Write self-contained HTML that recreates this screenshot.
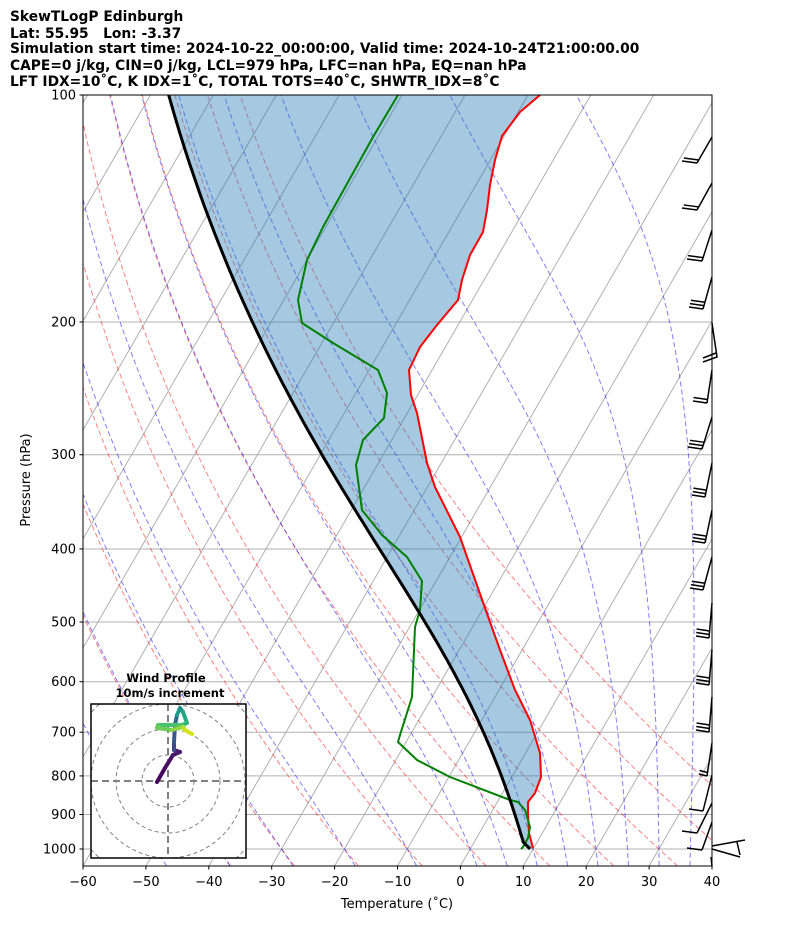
<!DOCTYPE html>
<html><head><meta charset="utf-8"><style>
body{margin:0;background:#fff;}
svg{display:block;font-family:"DejaVu Sans","Liberation Sans",sans-serif;}
</style></head><body>
<svg id="s" width="794" height="937" xmlns="http://www.w3.org/2000/svg">
<defs><clipPath id="cp"><rect x="83" y="95" width="629" height="771"/></clipPath>
<clipPath id="ci"><rect x="91" y="704" width="155" height="154"/></clipPath></defs>
<g font-weight="bold" font-size="13.8" fill="#000">
<text x="10" y="21">SkewTLogP Edinburgh</text>
<text x="10" y="38">Lat: 55.95 Lon: -3.37</text>
<text x="10" y="53">Simulation start time: 2024-10-22_00:00:00, Valid time: 2024-10-24T21:00:00.00</text>
<text x="10" y="70">CAPE=0 j/kg, CIN=0 j/kg, LCL=979 hPa, LFC=nan hPa, EQ=nan hPa</text>
<text x="10" y="86">LFT IDX</text>
</g>
<g id="bg" clip-path="url(#cp)"></g>
<g id="fg"></g>
</svg>
<script>
var NS="http://www.w3.org/2000/svg";
function el(p,t,a){var e=document.createElementNS(NS,t);for(var k in a)e.setAttribute(k,a[k]);p.appendChild(e);return e;}
var s=document.getElementById('s'),bg=document.getElementById('bg'),fg=document.getElementById('fg');
var tt=s.querySelectorAll('text');
tt[1].textContent="Lat: 55.95\u00a0\u00a0\u00a0Lon: -3.37";
tt[4].textContent="LFT IDX=10\u02DAC, K IDX=1\u02DAC, TOTAL TOTS=40\u02DAC, SHWTR_IDX=8\u02DAC";
function Y(p){return 95+754*Math.log10(p/100);}
function X(T,p){return 83+(T+60)*6.29+(866-Y(p))*0.577;}
var PB=1053;
function pl(g,pts,a){a.points=pts.map(function(q){return q[0].toFixed(1)+","+q[1].toFixed(1)}).join(" ");a.fill=a.fill||"none";return el(g,"polyline",a);}
for(var p=100;p<=1000;p+=100){el(bg,"line",{x1:83,x2:712,y1:Y(p),y2:Y(p),stroke:"#b0b0b0","stroke-width":1});}
for(var T=-150;T<=60;T+=10){var x0=83+(T+60)*6.29;el(bg,"line",{x1:x0,y1:866,x2:x0+771*0.577,y2:95,stroke:"#b0b0b0","stroke-width":1});}
for(var t=-40;t<=50;t+=10){var th=t+273.15,pts=[];for(var i=0;i<=60;i++){var pp=PB-(PB-100)*i/60;pts.push([X(th*Math.pow(pp/1000,0.2857)-273.15,pp),Y(pp)]);}
pl(bg,pts,{stroke:"#ff0000","stroke-opacity":0.5,"stroke-width":1,"stroke-dasharray":"5,3"});}
function dTdp(T,p){var Tc=T-273.15;var es=6.112*Math.exp(17.67*Tc/(Tc+243.5));var rs=0.622*es/(p-es);
return (287.04*T+2.501e6*rs)/(1005.7+2.501e6*2.501e6*rs*0.622/(287.04*T*T))/p;}
function integ(T,p0,p1,n){var out=[[T,p0]],h=(p1-p0)/n,p=p0;for(var i=0;i<n;i++){var k1=dTdp(T,p),k2=dTdp(T+h*k1/2,p+h/2),k3=dTdp(T+h*k2/2,p+h/2),k4=dTdp(T+h*k3,p+h);T+=h*(k1+2*k2+2*k3+k4)/6;p+=h;out.push([T,p]);}return out;}
var mts=[-50,-40,-30,-20,-10];for(var t=0;t<100;t+=5)mts.push(t);
mts.forEach(function(t){var up=integ(t+273.15,1000,100,120),dn=integ(t+273.15,1000,PB,10);var all=dn.reverse().concat(up.slice(1));
pl(bg,all.map(function(q){return [X(q[0]-273.15,q[1]),Y(q[1])]}),{stroke:"#0000ff","stroke-opacity":0.5,"stroke-width":1,"stroke-dasharray":"5,3"});});
var red=[[540,95],[520,112],[502,136],[495,160],[490,185],[487,210],[483,232],[470,255],[462,280],[458,300],[437,325],[420,347],[409,370],[411,395],[417,413],[427,463],[435,487],[460,537],[485,608],[500,650],[515,690],[530,720],[540,753],[541,777],[535,793],[528,802],[528,813],[529,833],[533,848]];
// parcel
var T0=282.65,lcl=979,blk=[];
for(var i=0;i<=5;i++){var pp=1000-(1000-lcl)*i/5;blk.push([X(T0*Math.pow(pp/1000,0.2857)-273.15,pp),Y(pp)]);}
var Tl=T0*Math.pow(lcl/1000,0.2857);
integ(Tl,lcl,100,150).slice(1).forEach(function(q){blk.push([X(q[0]-273.15,q[1]),Y(q[1])]);});
var grn=[[398,95],[373,137],[348,182],[323,227],[307,260],[298,300],[302,323],[333,343],[378,370],[387,393],[384,418],[363,440],[356,465],[362,510],[382,535],[407,557],[422,581],[420,610],[415,627],[412,697],[400,735],[398,742],[417,760],[450,777],[510,800],[518,802],[525,810],[530,827],[528,838],[523,847],[521,849]];
var f=pl(bg,blk.slice().reverse().concat(red.slice().reverse()),{});
f.setAttribute("fill","#1f77b4");f.setAttribute("fill-opacity","0.4");
pl(bg,red,{stroke:"#ff0000","stroke-width":2,"stroke-linejoin":"round"});
pl(bg,grn,{stroke:"#008000","stroke-width":2,"stroke-linejoin":"round"});
pl(bg,blk,{stroke:"#000","stroke-width":3,"stroke-linejoin":"round"});
var B=[[137,697,163,2,15],[183,697,210,2,15],[230,702,261,2,15],[277,703,309,3,14],[370,707,403,2,14],[417,702,449,3,14],[463,705,497,3,13],[510,705,543,3,13],[557,703,590,3,13],[603,709,638,3,13],[650,709,685,3,13],[697,709,732,3,13],[743,707,776,2,8],[775,703,811,1,14],[803,697,833,1,15],[822,702,850,1,15]];
B.forEach(function(b){el(fg,"line",{x1:712,y1:b[0],x2:b[1],y2:b[2],stroke:"#000","stroke-width":1.5});
var dx=(712-b[1]),dy=(b[0]-b[2]),L=Math.sqrt(dx*dx+dy*dy);dx/=L;dy/=L;
for(var i=0;i<b[3];i++){var sx=b[1]+dx*3.5*i,sy=b[2]+dy*3.5*i;el(fg,"line",{x1:sx,y1:sy,x2:sx-b[4],y2:sy-2,stroke:"#000","stroke-width":1.5});}});
el(fg,"polyline",{points:"712,323 717,357 703,362",fill:"none",stroke:"#000","stroke-width":1.5});
el(fg,"line",{x1:716,y1:353,x2:703,y2:358,stroke:"#000","stroke-width":1.5});
el(fg,"line",{x1:712,y1:846,x2:745,y2:840,stroke:"#000","stroke-width":1.5});
el(fg,"line",{x1:712,y1:849,x2:740,y2:857,stroke:"#000","stroke-width":1.5});
el(fg,"line",{x1:737,y1:842,x2:740,y2:855,stroke:"#000","stroke-width":1.5});
el(fg,"line",{x1:711,y1:857,x2:712,y2:866,stroke:"#000","stroke-width":1.5});
el(fg,"rect",{x:83,y:95,width:629,height:771,fill:"none",stroke:"#000","stroke-width":1});
for(var p=100;p<=1000;p+=100){var y=Y(p);el(fg,"line",{x1:79.5,x2:83,y1:y,y2:y,stroke:"#000"});var t=el(fg,"text",{x:76,y:y+4.5,"text-anchor":"end","font-size":"13"});t.textContent=p;}
for(var T=-60;T<=40;T+=10){var x=83+(T+60)*6.29;el(fg,"line",{x1:x,x2:x,y1:866,y2:869.5,stroke:"#000"});var t=el(fg,"text",{x:x,y:886,"text-anchor":"middle","font-size":"13"});t.textContent=(T<0?"\u2212"+(-T):T);}
var t=el(fg,"text",{x:397,y:908,"text-anchor":"middle","font-size":"13"});t.textContent="Temperature (\u02DAC)";
t=el(fg,"text",{x:30,y:480,"text-anchor":"middle","font-size":"13",transform:"rotate(-90 30 480)"});t.textContent="Pressure (hPa)";
var ig=el(fg,"g",{});
el(ig,"rect",{x:91,y:704,width:155,height:154,fill:"#fff",stroke:"none"});
var ic=el(ig,"g",{"clip-path":"url(#ci)"});
[26,52,77,103].forEach(function(r){el(ic,"circle",{cx:168,cy:781,r:r,fill:"none",stroke:"#808080","stroke-width":1,"stroke-dasharray":"4,3"});});
el(ic,"line",{x1:91,x2:246,y1:781,y2:781,stroke:"#808080","stroke-width":2,"stroke-dasharray":"7,4"});
el(ic,"line",{y1:704,y2:858,x1:168,x2:168,stroke:"#808080","stroke-width":2,"stroke-dasharray":"7,4"});
var hp=[[157,782,"#440154"],[165,768,"#46085c"],[173,755,"#471063"],[180,752,"#48186a"],[174,750,"#482071"],[174,742,"#3e4a89"],[175,725,"#38588c"],[177,715,"#31688e"],[180,708,"#1f9e89"],[183,712,"#21918c"],[187,723,"#22a884"],[182,725,"#35b779"],[158,725,"#4ac16d"],[157,728,"#5ec962"],[172,730,"#6ccd5a"],[183,727,"#90d743"],[185,730,"#b5de2b"],[192,734,"#d8e219"]];
for(var i=1;i<hp.length;i++){el(ic,"line",{x1:hp[i-1][0],y1:hp[i-1][1],x2:hp[i][0],y2:hp[i][1],stroke:hp[i][2],"stroke-width":4,"stroke-linecap":"round"});}
el(ig,"rect",{x:91,y:704,width:155,height:154,fill:"none",stroke:"#000","stroke-width":1.5});
t=el(ig,"text",{x:166,y:682,"text-anchor":"middle","font-size":"11.5","font-weight":"bold"});t.textContent="Wind Profile";
t=el(ig,"text",{x:170,y:697,"text-anchor":"middle","font-size":"11.5","font-weight":"bold"});t.textContent="10m/s increment";
</script>
</body></html>
